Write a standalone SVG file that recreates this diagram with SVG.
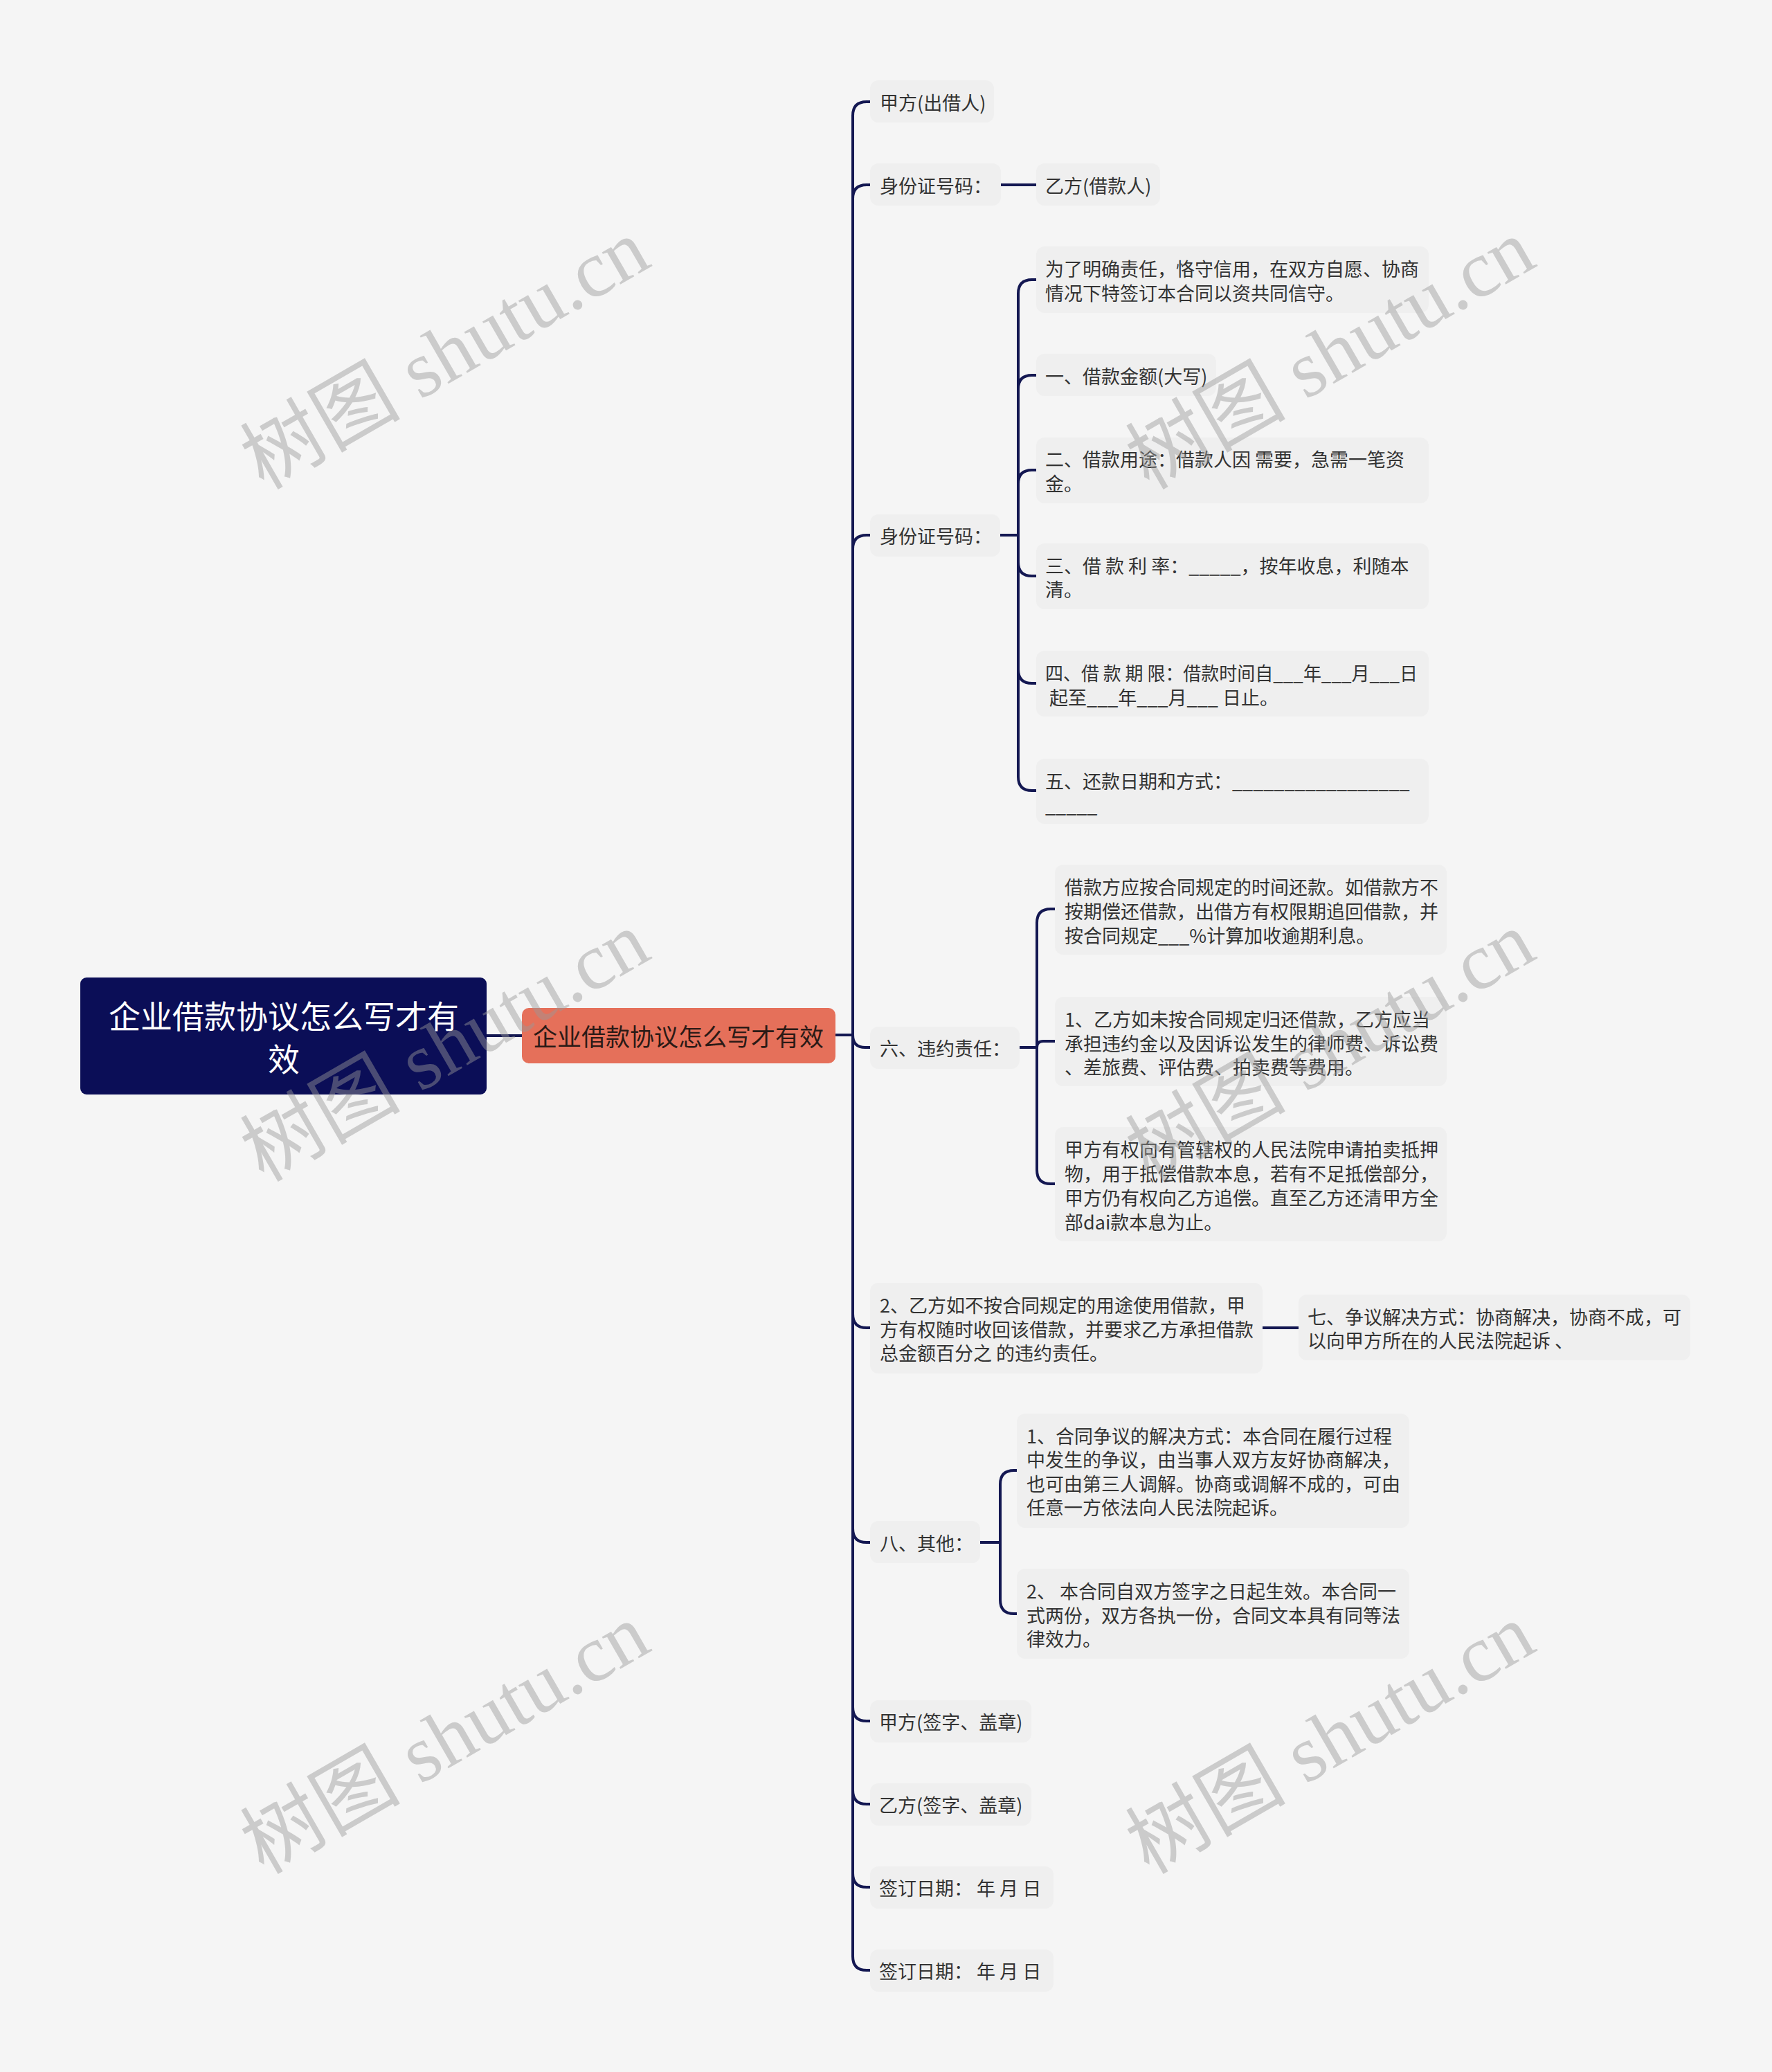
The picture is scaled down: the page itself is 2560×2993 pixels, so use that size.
<svg xmlns="http://www.w3.org/2000/svg" width="2560" height="2993" viewBox="0 0 2560 2993">
<style>
.bg{fill:#f5f5f5}
.box{fill:#efefef}
.t{font-family:"Noto Sans CJK SC","Noto Sans",sans-serif;font-size:27px;fill:#333333;dominant-baseline:central}
.ln{fill:none;stroke:#141852;stroke-width:4;stroke-linecap:round}
.wm{font-family:"Liberation Serif","Noto Sans CJK SC",serif;font-size:116px;fill:#999999;opacity:0.45;text-anchor:middle;dominant-baseline:central}
</style>
<rect class="bg" x="0" y="0" width="2560" height="2993"/>
<g id="connectors">
<path class="ln" d="M703,1496 H754"/>
<path class="ln" d="M1207,1495 H1232 V167 Q1232,147 1252,147 H1257"/>
<path class="ln" d="M1207,1495 H1232 V287 Q1232,267 1252,267 H1257"/>
<path class="ln" d="M1207,1495 H1232 V793 Q1232,773 1252,773 H1257"/>
<path class="ln" d="M1207,1495 H1232 Q1232,1513 1250,1513 H1257"/>
<path class="ln" d="M1207,1495 H1232 V1898 Q1232,1918 1252,1918 H1257"/>
<path class="ln" d="M1207,1495 H1232 V2208 Q1232,2228 1252,2228 H1257"/>
<path class="ln" d="M1207,1495 H1232 V2466 Q1232,2486 1252,2486 H1257"/>
<path class="ln" d="M1207,1495 H1232 V2586 Q1232,2606 1252,2606 H1257"/>
<path class="ln" d="M1207,1495 H1232 V2706 Q1232,2726 1252,2726 H1257"/>
<path class="ln" d="M1207,1495 H1232 V2826 Q1232,2846 1252,2846 H1257"/>
<path class="ln" d="M1446,267 H1497"/>
<path class="ln" d="M1445,773 H1471 V424 Q1471,404 1491,404 H1497"/>
<path class="ln" d="M1445,773 H1471 V562 Q1471,542 1491,542 H1497"/>
<path class="ln" d="M1445,773 H1471 V699 Q1471,679 1491,679 H1497"/>
<path class="ln" d="M1445,773 H1471 V812 Q1471,832 1491,832 H1497"/>
<path class="ln" d="M1445,773 H1471 V967 Q1471,987 1491,987 H1497"/>
<path class="ln" d="M1445,773 H1471 V1122 Q1471,1142 1491,1142 H1497"/>
<path class="ln" d="M1473,1513 H1498 V1333 Q1498,1313 1518,1313 H1524"/>
<path class="ln" d="M1473,1513 H1498 Q1498,1504 1507,1504 H1524"/>
<path class="ln" d="M1473,1513 H1498 V1690 Q1498,1710 1518,1710 H1524"/>
<path class="ln" d="M1824,1918 H1876"/>
<path class="ln" d="M1416,2228 H1445 V2144 Q1445,2124 1465,2124 H1469"/>
<path class="ln" d="M1416,2228 H1445 V2311 Q1445,2331 1465,2331 H1469"/>
</g>
<g id="root">
<rect x="116" y="1412" width="587" height="169" rx="9" fill="#0b0e57"/>
<text x="410" y="1465" text-anchor="middle" style="font-family:'Noto Sans CJK SC',sans-serif;font-size:46px;fill:#ffffff;dominant-baseline:central">企业借款协议怎么写才有</text>
<text x="410" y="1527" text-anchor="middle" style="font-family:'Noto Sans CJK SC',sans-serif;font-size:46px;fill:#ffffff;dominant-baseline:central">效</text>
</g>
<g id="main">
<rect x="754" y="1456" width="453" height="80" rx="10" fill="#e5705a"/>
<text x="980" y="1495" text-anchor="middle" style="font-family:'Noto Sans CJK SC',sans-serif;font-size:35px;fill:#2b1a16;dominant-baseline:central">企业借款协议怎么写才有效</text>
</g>
<g id="n1"><rect class="box" x="1257" y="116" width="179" height="61" rx="12"/><text class="t" x="1271" y="147">甲方(出借人)</text></g>
<g id="n2"><rect class="box" x="1257" y="236" width="189" height="61" rx="12"/><text class="t" x="1271" y="267">身份证号码：</text></g>
<g id="n2a"><rect class="box" x="1497" y="236" width="179" height="61" rx="12"/><text class="t" x="1510" y="267">乙方(借款人)</text></g>
<g id="n3"><rect class="box" x="1257" y="743" width="188" height="61" rx="12"/><text class="t" x="1271" y="773">身份证号码：</text></g>
<g id="n3a"><rect class="box" x="1497" y="356" width="567" height="96" rx="12"/><text class="t" x="1510" y="387">为了明确责任，恪守信用，在双方自愿、协商</text><text class="t" x="1510" y="422">情况下特签订本合同以资共同信守。</text></g>
<g id="n3b"><rect class="box" x="1497" y="511" width="260" height="61" rx="12"/><text class="t" x="1510" y="542">一、借款金额(大写)</text></g>
<g id="n3c"><rect class="box" x="1497" y="632" width="567" height="95" rx="12"/><text class="t" x="1510" y="662">二、借款用途：借款人因 需要，急需一笔资</text><text class="t" x="1510" y="697">金。</text></g>
<g id="n3d"><rect class="box" x="1497" y="785" width="567" height="95" rx="12"/><text class="t" x="1510" y="816" xml:space="preserve">三、借 款 利 率：_____，按年收息，利随本</text><text class="t" x="1510" y="850">清。</text></g>
<g id="n3e"><rect class="box" x="1497" y="940" width="567" height="95" rx="12"/><text class="t" x="1510" y="971" xml:space="preserve" textLength="538" lengthAdjust="spacingAndGlyphs">四、借 款 期 限：借款时间自___年___月___日</text><text class="t" x="1510" y="1006" xml:space="preserve"> 起至___年___月___ 日止。</text></g>
<g id="n3f"><rect class="box" x="1497" y="1096" width="567" height="94" rx="12"/><text class="t" x="1510" y="1127">五、还款日期和方式：_________________</text><text class="t" x="1510" y="1162">_____</text></g>
<g id="n4"><rect class="box" x="1257" y="1483" width="216" height="61" rx="12"/><text class="t" x="1271" y="1513">六、违约责任：</text></g>
<g id="n4a"><rect class="box" x="1524" y="1249" width="566" height="130" rx="12"/><text class="t" x="1538" y="1280">借款方应按合同规定的时间还款。如借款方不</text><text class="t" x="1538" y="1315">按期偿还借款，出借方有权限期追回借款，并</text><text class="t" x="1538" y="1350">按合同规定___%计算加收逾期利息。</text></g>
<g id="n4b"><rect class="box" x="1524" y="1440" width="566" height="129" rx="12"/><text class="t" x="1538" y="1471">1、乙方如未按合同规定归还借款，乙方应当</text><text class="t" x="1538" y="1506">承担违约金以及因诉讼发生的律师费、诉讼费</text><text class="t" x="1538" y="1540">、差旅费、评估费、拍卖费等费用。</text></g>
<g id="n4c"><rect class="box" x="1524" y="1628" width="566" height="165" rx="12"/><text class="t" x="1538" y="1659">甲方有权向有管辖权的人民法院申请拍卖抵押</text><text class="t" x="1538" y="1694">物，用于抵偿借款本息，若有不足抵偿部分，</text><text class="t" x="1538" y="1729">甲方仍有权向乙方追偿。直至乙方还清甲方全</text><text class="t" x="1538" y="1764">部dai款本息为止。</text></g>
<g id="n5"><rect class="box" x="1257" y="1853" width="567" height="131" rx="12"/><text class="t" x="1271" y="1884">2、乙方如不按合同规定的用途使用借款，甲</text><text class="t" x="1271" y="1919">方有权随时收回该借款，并要求乙方承担借款</text><text class="t" x="1271" y="1953">总金额百分之 的违约责任。</text></g>
<g id="n5a"><rect class="box" x="1876" y="1870" width="566" height="95" rx="12"/><text class="t" x="1889" y="1901">七、争议解决方式：协商解决，协商不成，可</text><text class="t" x="1889" y="1935">以向甲方所在的人民法院起诉 、</text></g>
<g id="n6"><rect class="box" x="1257" y="2197" width="159" height="61" rx="12"/><text class="t" x="1271" y="2228">八、其他：</text></g>
<g id="n6a"><rect class="box" x="1469" y="2042" width="567" height="165" rx="12"/><text class="t" x="1483" y="2073">1、合同争议的解决方式：本合同在履行过程</text><text class="t" x="1483" y="2107">中发生的争议，由当事人双方友好协商解决，</text><text class="t" x="1483" y="2142">也可由第三人调解。协商或调解不成的，可由</text><text class="t" x="1483" y="2176">任意一方依法向人民法院起诉。</text></g>
<g id="n6b"><rect class="box" x="1469" y="2266" width="567" height="130" rx="12"/><text class="t" x="1483" y="2297" xml:space="preserve">2、 本合同自双方签字之日起生效。本合同一</text><text class="t" x="1483" y="2332">式两份，双方各执一份，合同文本具有同等法</text><text class="t" x="1483" y="2366">律效力。</text></g>
<g id="n7"><rect class="box" x="1257" y="2456" width="233" height="61" rx="12"/><text class="t" x="1270" y="2486">甲方(签字、盖章)</text></g>
<g id="n8"><rect class="box" x="1257" y="2576" width="233" height="61" rx="12"/><text class="t" x="1270" y="2606">乙方(签字、盖章)</text></g>
<g id="n9"><rect class="box" x="1257" y="2696" width="265" height="61" rx="12"/><text class="t" x="1270" y="2726" xml:space="preserve">签订日期： 年 月 日</text></g>
<g id="n10"><rect class="box" x="1257" y="2816" width="265" height="61" rx="12"/><text class="t" x="1270" y="2846" xml:space="preserve">签订日期： 年 月 日</text></g>
<g id="watermarks">
<text class="wm" x="643" y="512" transform="rotate(-30 643 512)">树图 shutu.cn</text>
<text class="wm" x="1922" y="512" transform="rotate(-30 1922 512)">树图 shutu.cn</text>
<text class="wm" x="643" y="1512" transform="rotate(-30 643 1512)">树图 shutu.cn</text>
<text class="wm" x="1922" y="1512" transform="rotate(-30 1922 1512)">树图 shutu.cn</text>
<text class="wm" x="643" y="2512" transform="rotate(-30 643 2512)">树图 shutu.cn</text>
<text class="wm" x="1922" y="2512" transform="rotate(-30 1922 2512)">树图 shutu.cn</text>
</g>
</svg>
